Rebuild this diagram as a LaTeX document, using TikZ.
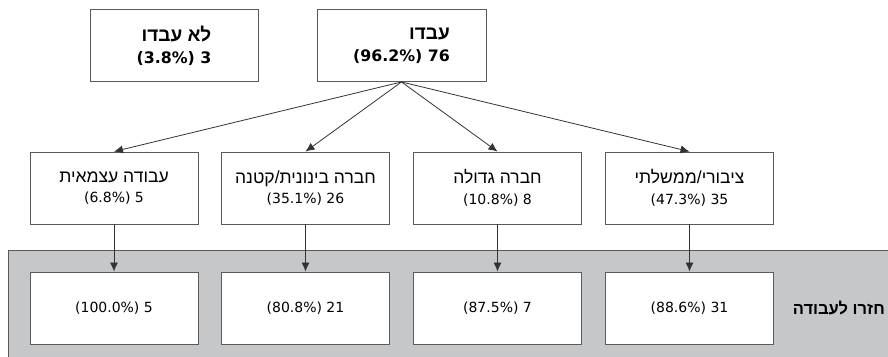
\documentclass[tikz,border=0pt]{standalone}
\usepackage{fontspec}
\setmainfont{DejaVu Sans}
\newfontfamily\heb[Script=Hebrew]{Liberation Sans}
\TeXXeTstate=1
\usetikzlibrary{arrows.meta}
\definecolor{bandgray}{HTML}{C6C7C9}
\definecolor{edgegray}{HTML}{5A5A5A}
\definecolor{linegray}{HTML}{333333}
\newcommand{\hebmid}[1]{{\heb\fontsize{17.5}{20.5}\selectfont\beginR #1\endR}}
\newcommand{\hebtop}[1]{{\heb\fontsize{19}{22}\selectfont\bfseries\beginR #1\endR}}
\tikzset{
  box/.style={draw=edgegray, line width=0.9pt, fill=white, minimum width=168pt, minimum height=72pt, align=center, inner sep=0pt, font=\fontsize{14}{20.5}\selectfont},
  topbox/.style={box, align=right, font=\fontsize{15.8}{22}\selectfont\bfseries},
  conn/.style={draw=linegray, line width=0.8pt, -{Latex[length=9pt,width=8pt]}},
}
\begin{document}
\begin{tikzpicture}[x=1pt,y=-1pt]
\useasboundingbox (0,0) rectangle (888,356);
\fill[bandgray, draw=edgegray, line width=0.9pt] (8,250) rectangle (895,365);
\node[topbox] (nw) at (174,45.5) {\hebtop{לא עבדו}\\(3.8\%) 3};
\node[topbox, minimum width=169pt] (w) at (401.5,45.5) {\hebtop{עבדו}\\(96.2\%) 76};
\node[box] (m1) at (114,188) {\hebmid{עבודה עצמאית}\\(6.8\%) 5};
\node[box] (m2) at (305.5,188) {\hebmid{חברה בינונית/קטנה}\\(35.1\%) 26};
\node[box] (m3) at (497.5,188) {\hebmid{חברה גדולה}\\(10.8\%) 8};
\node[box] (m4) at (689.5,188) {\hebmid{ציבורי/ממשלתי}\\(47.3\%) 35};
\node[box] (b1) at (114,308) {(100.0\%) 5};
\node[box] (b2) at (305.5,308) {(80.8\%) 21};
\node[box] (b3) at (497.5,308) {(87.5\%) 7};
\node[box] (b4) at (689.5,308) {(88.6\%) 31};
\node[anchor=east, inner sep=0pt, font=\fontsize{16.5}{18}\selectfont\bfseries] (lbl) at (885,308) {\heb\beginR חזרו לעבודה\endR};
\foreach \m in {m1,m2,m3,m4} \draw[conn] (w.south) -- (\m.north);
\foreach \i in {1,2,3,4} \draw[conn] (m\i.south) -- (b\i.north);
\end{tikzpicture}
\end{document}
